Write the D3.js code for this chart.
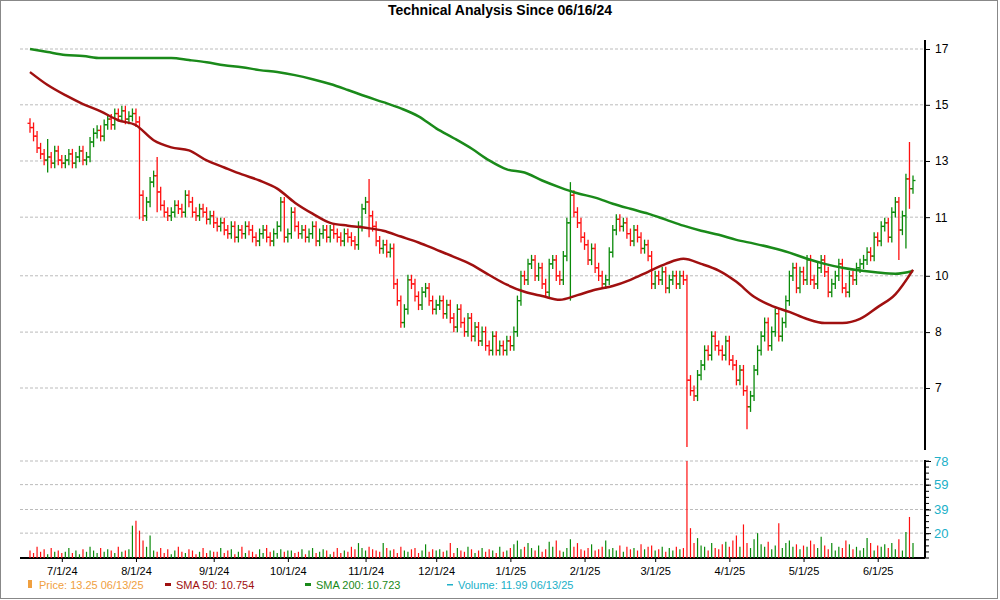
<!DOCTYPE html>
<html><head><meta charset="utf-8">
<script src="https://cdn.jsdelivr.net/npm/d3@7"></script>
<style>body{margin:0;background:#fff;font-family:"Liberation Sans",Arial,sans-serif}</style>
</head><body><svg id="c" width="1000" height="600"></svg>
<script>
// Daily closes 6/17/24 .. 6/13/25 (by month)
const closes = [
 15.0,14.7,14.3,14.1,13.9,14.0,13.8,14.2,13.9,13.8,
 13.9,14.1,13.8,14.0,14.2,13.9,14.0,14.5,14.8,14.9,14.7,15.1,15.3,15.1,15.5,15.4,15.6,15.3,15.4,15.5,15.2,
 12.8,12.2,12.6,13.2,13.4,12.9,12.5,12.3,12.2,12.3,12.5,12.4,12.3,12.8,12.6,12.3,12.2,12.4,12.3,12.1,12.2,12.0,
 11.9,12.0,11.8,11.7,11.9,11.6,11.8,11.7,11.9,11.8,11.6,11.5,11.7,11.8,11.6,11.5,11.7,11.9,12.6,11.6,11.7,
 12.3,11.9,11.7,11.8,11.6,11.7,11.9,11.5,11.7,11.8,11.6,11.8,11.7,11.6,11.5,11.7,11.6,11.5,11.4,11.9,12.4,12.6,
 12.2,11.9,11.5,11.3,11.4,11.2,11.3,10.4,10.0,9.5,9.8,10.5,10.4,10.1,9.9,10.2,10.3,10.0,9.8,9.9,
 10.0,9.7,9.9,9.6,9.4,9.8,9.5,9.3,9.6,9.2,9.4,9.1,9.3,9.0,8.9,9.2,8.9,9.0,8.9,9.1,9.0,
 9.3,10.0,10.6,10.5,10.9,11.0,10.6,10.8,10.4,10.2,10.9,11.0,10.6,10.5,11.1,12.0,12.8,12.3,12.0,11.6,11.4,
 11.0,11.3,10.8,10.6,10.4,10.5,11.2,11.8,12.1,11.9,12.0,11.7,11.5,11.8,11.6,11.3,11.4,11.1,10.4,10.6,
 10.5,10.7,10.3,10.5,10.6,10.4,10.6,10.5,8.3,8.1,8.0,8.4,8.6,8.9,8.8,9.2,9.0,8.9,8.8,9.1,8.7,
 8.6,8.3,8.5,8.1,7.8,8.0,8.5,8.9,9.2,9.5,9.0,9.3,9.7,9.2,9.5,10.0,10.6,10.8,10.3,10.7,10.5,
 11.0,10.5,10.4,10.8,11.0,10.7,10.2,10.4,10.6,10.9,10.3,10.2,10.6,10.5,10.8,10.9,11.0,11.2,11.1,11.6,11.5,
 11.9,12.0,11.6,12.3,12.6,11.8,12.2,13.3,13.0,13.25
];
// Wicks for notable bars: [index, high, low]
const wicks = [[5,14.6,13.5],[31,15.4,12.1],[36,14.0,12.3],[96,13.3,11.6],[153,13.2,10.0],[186,10.6,7.1],[203,8.2,7.4],[246,12.3,11.0],[248,13.4,11.3],[249,14.5,12.4]];
const volumes = [
 6,4,9,5,7,3,8,5,6,4,
 5,8,4,6,3,7,5,9,6,4,8,5,7,6,4,9,5,6,7,26,30,
 22,14,9,18,6,5,8,4,7,3,6,9,5,4,7,6,3,5,8,4,6,5,
 5,8,4,6,7,3,5,9,4,6,5,3,7,4,8,5,6,4,7,5,6,
 6,4,5,7,3,6,8,4,5,7,6,3,5,8,4,6,5,9,7,12,8,6,
 9,7,6,5,12,8,6,7,4,9,6,5,7,8,4,6,11,5,7,6,
 7,5,6,12,4,8,6,5,9,7,4,6,8,5,7,6,4,9,5,6,8,
 11,14,7,9,12,8,6,10,5,7,13,9,14,6,5,8,15,9,12,7,6,
 8,11,6,7,9,14,7,8,6,10,5,9,7,8,6,11,7,9,10,6,
 7,9,5,8,6,9,7,8,78,24,12,16,10,9,6,12,8,7,11,13,9,
 14,18,9,27,12,8,15,20,11,9,13,7,10,28,8,12,14,9,11,7,10,
 9,14,11,8,17,10,7,12,6,9,8,14,11,7,9,6,8,16,12,6,10,
 9,11,8,12,7,15,6,21,33,12
];
const priceTicks = [18.03, 15.82, 13.87, 12.16, 10.6, 9.29, 8.15];
const priceTickLabels = ["17","15","13","11","10","8","7"];
const volTicks = [20,39,59,78];
const monthLabels = ["7/1/24","8/1/24","9/1/24","10/1/24","11/1/24","12/1/24","1/1/25","2/1/25","3/1/25","4/1/25","5/1/25","6/1/25"];
const monthStartIdx = [10,31,53,74,96,116,137,158,178,199,220,241];
// Moving averages sampled every 5 trading days
const sma50 = [17.08,16.57,16.18,15.85,15.58,15.26,15.08,14.56,14.32,14.22,13.89,13.66,13.44,13.25,13.0,12.58,12.26,12.0,11.92,11.86,11.78,11.62,11.46,11.27,11.08,10.88,10.62,10.38,10.21,10.11,10.02,10.13,10.26,10.35,10.5,10.7,10.9,11.03,10.9,10.73,10.45,10.09,9.88,9.74,9.58,9.49,9.49,9.58,9.85,10.15,10.75];
const sma200 = [18.03,17.9,17.78,17.74,17.65,17.65,17.65,17.65,17.65,17.57,17.48,17.36,17.28,17.16,17.08,16.96,16.8,16.61,16.38,16.14,15.92,15.69,15.4,14.97,14.63,14.28,13.89,13.6,13.5,13.25,13.04,12.86,12.73,12.55,12.4,12.26,12.09,11.92,11.78,11.67,11.53,11.43,11.32,11.19,11.03,10.9,10.8,10.73,10.68,10.65,10.72];

const svg = d3.select("#c");
const L = 20, R = 925;
const n = closes.length;
const x = d3.scaleLinear().domain([0, n-1]).range([30, 913]);
const y = d3.scaleLog().domain([8.15, 18.03]).range([388, 49]);
const yv = d3.scaleLinear().domain([0, 78]).range([558, 461]);

svg.append("rect").attr("x",0.5).attr("y",0.5).attr("width",997).attr("height",598).attr("fill","none").attr("stroke","#888");
svg.append("text").attr("x",500).attr("y",15).attr("text-anchor","middle").attr("font-weight","bold").attr("font-size",14).text("Technical Analysis Since 06/16/24");

const dash = "3,2";
svg.append("g").selectAll("line").data(priceTicks).join("line")
 .attr("x1",L).attr("x2",R).attr("y1",d=>y(d)).attr("y2",d=>y(d)).attr("stroke","#bbb").attr("stroke-dasharray",dash);
svg.append("g").selectAll("line").data(volTicks).join("line")
 .attr("x1",L).attr("x2",R).attr("y1",d=>yv(d)).attr("y2",d=>yv(d)).attr("stroke","#bbb").attr("stroke-dasharray",dash);

const ay = d3.axisRight(y).tickValues(priceTicks).tickFormat((d,i)=>priceTickLabels[i]).tickSize(5);
const gy = svg.append("g").attr("transform",`translate(${R},0)`).call(ay);
gy.select(".domain").attr("d",`M0,40V450`).attr("stroke","#000").attr("stroke-width",2);
gy.selectAll("text").attr("font-size",12).attr("font-family","Liberation Sans, Arial").attr("fill","#000").attr("dx",2);
const avTicks = d3.range(0,79,78/16);
const gvm = svg.append("g").attr("transform",`translate(${R},0)`);
gvm.selectAll("line").data(avTicks).join("line").attr("x1",0).attr("x2",4).attr("y1",d=>yv(d)).attr("y2",d=>yv(d)).attr("stroke","#000");
const av = d3.axisRight(yv).tickValues(volTicks).tickSize(6);
const gv = svg.append("g").attr("transform",`translate(${R},0)`).call(av);
gv.select(".domain").attr("d",`M0,460V558`).attr("stroke","#000").attr("stroke-width",2);
gv.selectAll("text").attr("font-size",13).attr("fill","#20b0c8").attr("font-family","Liberation Sans, Arial");

const gx = svg.append("g").attr("transform","translate(0,558)");
gx.append("line").attr("x1",L).attr("x2",R).attr("stroke","#000").attr("stroke-width",2);
gx.selectAll("g").data(monthStartIdx).join("g").each(function(d,i){
  const g=d3.select(this);
  g.append("line").attr("x1",x(d)-3).attr("x2",x(d)-3).attr("y1",0).attr("y2",4).attr("stroke","#000");
  g.append("text").attr("x",x(d)-3).attr("y",17).attr("text-anchor","middle").attr("font-size",11).text(monthLabels[i]);
});

const bars = closes.map((c,i)=>{
  const o = i ? closes[i-1] : c*1.01;
  let h = Math.max(o,c)*1.012, l = Math.min(o,c)*0.988;
  const w = wicks.find(q=>q[0]===i);
  if (w){h=Math.max(w[1],h); l=Math.min(w[2],l);}
  return {i,o,c,h,l,up:c>=o};
});
const gb = svg.append("g").attr("stroke-width",1.3);
bars.forEach(b=>{
  const col = b.up ? "#0a8a0a" : "#ff1010";
  const xx = x(b.i);
  gb.append("line").attr("x1",xx).attr("x2",xx).attr("y1",y(b.h)).attr("y2",y(b.l)).attr("stroke",col);
  gb.append("line").attr("x1",xx-2.5).attr("x2",xx).attr("y1",y(b.o)).attr("y2",y(b.o)).attr("stroke",col);
  gb.append("line").attr("x1",xx).attr("x2",xx+2.5).attr("y1",y(b.c)).attr("y2",y(b.c)).attr("stroke",col);
  svg.append("line").attr("x1",xx).attr("x2",xx).attr("y1",yv(0)).attr("y2",yv(volumes[b.i]||0)).attr("stroke",col).attr("stroke-width",1.2);
});

const line = d3.line().x(d=>x(d[0])).y(d=>y(d[1])).curve(d3.curveMonotoneX);
svg.append("path").attr("d",line(sma200.map((v,k)=>[Math.min(k*5,n-1),v]))).attr("fill","none").attr("stroke","#1a8a1a").attr("stroke-width",2.5);
svg.append("path").attr("d",line(sma50.map((v,k)=>[Math.min(k*5,n-1),v]))).attr("fill","none").attr("stroke","#a01010").attr("stroke-width",2.5);

const lg = [
 {x:28,t:"Price: 13.25  06/13/25",c:"#f0a040",mark:"sq"},
 {x:165,t:"SMA 50: 10.754",c:"#a01010",mark:"dash"},
 {x:305,t:"SMA 200: 10.723",c:"#1a8a1a",mark:"dash"},
 {x:447,t:"Volume: 11.99  06/13/25",c:"#20b0c8",mark:"thin"}
];
const gl = svg.append("g");
lg.forEach(d=>{
  if(d.mark==="sq") gl.append("rect").attr("x",d.x).attr("y",580).attr("width",4).attr("height",8).attr("fill",d.c);
  else gl.append("rect").attr("x",d.x).attr("y",d.mark==="thin"?584:583).attr("width",6).attr("height",d.mark==="thin"?1.5:3).attr("fill",d.c);
  gl.append("text").attr("x",d.x+11).attr("y",589).attr("font-size",11).attr("fill",d.c).text(d.t);
});
</script></body></html>
